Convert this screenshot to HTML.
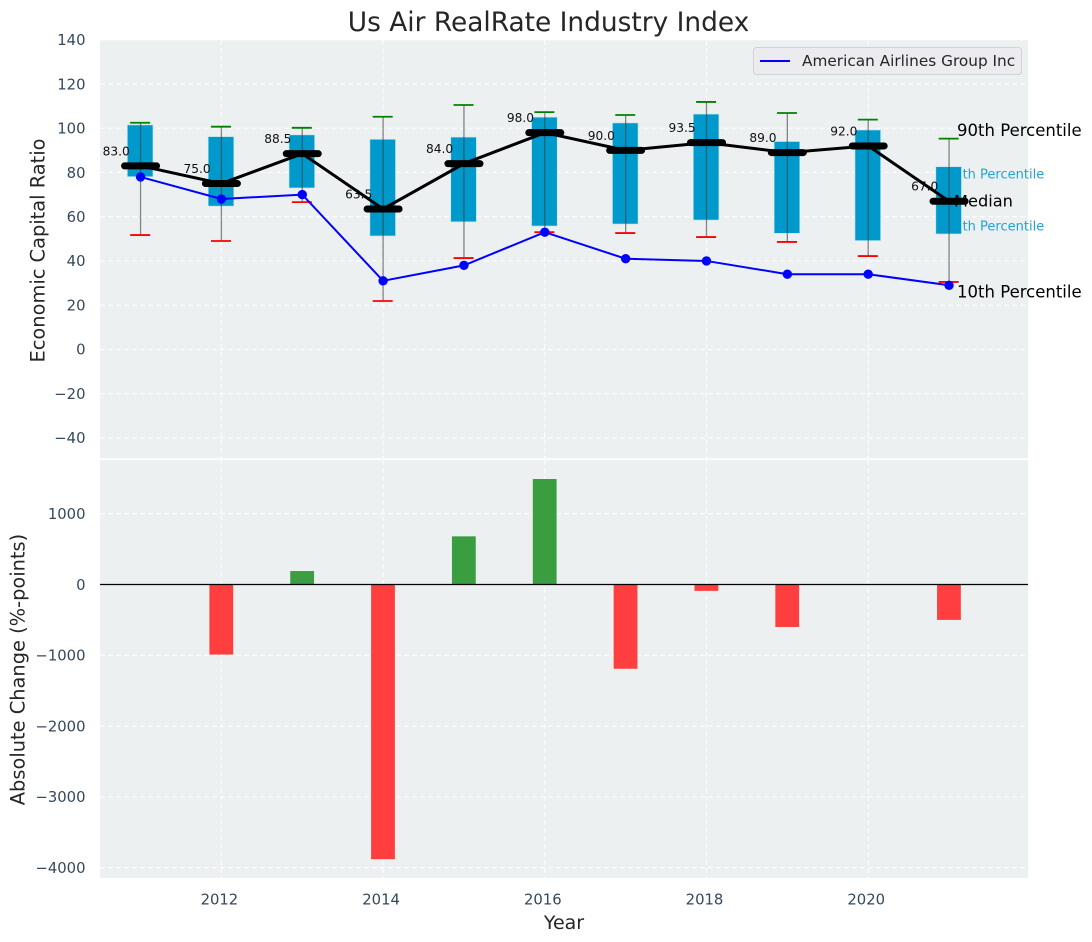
<!DOCTYPE html>
<html>
<head>
<meta charset="utf-8">
<title>Us Air RealRate Industry Index</title>
<style>
html,body{margin:0;padding:0;background:#fff;}
svg{display:block;}
text{font-family:"DejaVu Sans","Liberation Sans",sans-serif;}
</style>
</head>
<body>
<svg id="chart" xmlns="http://www.w3.org/2000/svg" width="1092" height="942" viewBox="0 0 1092 942">
<rect x="100" y="40" width="928" height="418.3" fill="#ecf0f1"/>
<rect x="100" y="460" width="928" height="418" fill="#ecf0f1"/>
<g id="layer-grid"></g>
<g id="layer-top"></g>
<g id="layer-bottom"></g>
<g id="layer-ticks"></g>
<text x="548.5" y="31" font-size="26.4" fill="#262626" text-anchor="middle">Us Air RealRate Industry Index</text>
<text transform="translate(44.5,250.5) rotate(-90)" font-size="19.4" fill="#262626" text-anchor="middle">Economic Capital Ratio</text>
<text transform="translate(24.5,669.5) rotate(-90)" font-size="19.4" fill="#262626" text-anchor="middle">Absolute Change (%-points)</text>
<text x="564" y="929" font-size="19" fill="#262626" text-anchor="middle">Year</text>
<g>
<rect x="753.5" y="47.5" width="268" height="27" rx="3" fill="#ececf0" stroke="#d2d2d6" stroke-width="1"/>
<line x1="760" x2="790" y1="61" y2="61" stroke="#0000ff" stroke-width="2"/>
<text x="802" y="66" font-size="15.3" fill="#262626">American Airlines Group Inc</text>
</g>
<script>
const years = [2011, 2012, 2013, 2014, 2015, 2016, 2017, 2018, 2019, 2020, 2021];
const p90 = [102.5, 100.7, 100.2, 105.2, 110.5, 107.3, 106, 111.9, 106.9, 103.9, 95.3];
const p75 = [101.5, 96.2, 97, 95, 96, 105, 102.4, 106.4, 94, 99.2, 82.6];
const median = [83, 75, 88.5, 63.5, 84, 98, 90, 93.5, 89, 92, 67];
const p25 = [78.1, 64.8, 73, 51.3, 57.7, 55.8, 56.7, 58.5, 52.5, 49.2, 52.2];
const p10 = [51.7, 49, 66.6, 21.9, 41.3, 53, 52.6, 50.8, 48.6, 42.2, 30.5];
const company = [78, 68, 70, 31, 38, 53, 41, 40, 34, 34, 29];
const change = [null, -990, 190, -3880, 680, 1490, -1190, -90, -600, 0, -500];
const xTicks = [2012, 2014, 2016, 2018, 2020];
const topYTicks = [140, 120, 100, 80, 60, 40, 20, 0, -20, -40];
const bottomYTicks = [1000, 0, -1000, -2000, -3000, -4000];

const NS = 'http://www.w3.org/2000/svg';
const xScale = function (year) { return 221.4 + (year - 2012) * 80.85; };
const yTop = function (v) { return 349.4 - v * 2.2115; };
const yBottom = function (v) { return 584.5 - v * 0.0708; };
const fmt = function (v) { return String(v).replace('-', '\u2212'); };

function make(parent, tag, name, attrs, content) {
  const el = document.createElementNS(NS, tag);
  
  
  Object.keys(attrs).forEach(function (k) { el.setAttribute(k, attrs[k]); });
  if (content !== undefined) el.textContent = content;
  parent.appendChild(el);
  return el;
}

const grid = document.getElementById('layer-grid');
const topLayer = document.getElementById('layer-top');
const bottomLayer = document.getElementById('layer-bottom');
const ticks = document.getElementById('layer-ticks');
const gridStyle = { stroke: '#ffffff', 'stroke-width': 1.1, 'stroke-dasharray': '5 3', opacity: 0.9 };

xTicks.forEach(function (t) {
  const x = xScale(t);
  make(grid, 'line', 'top-grid-x-' + t, Object.assign({ x1: x, x2: x, y1: 40, y2: 458.3 }, gridStyle));
  make(grid, 'line', 'bottom-grid-x-' + t, Object.assign({ x1: x, x2: x, y1: 460, y2: 878 }, gridStyle));
  make(ticks, 'text', 'x-tick-label-' + t, { x: x - 2, y: 904.5, 'font-size': 14.8, fill: '#34495e', 'text-anchor': 'middle' }, String(t));
});
topYTicks.forEach(function (t) {
  const y = yTop(t);
  make(grid, 'line', 'top-grid-y-' + t, Object.assign({ x1: 100, x2: 1028, y1: y, y2: y }, gridStyle));
  make(ticks, 'text', 'top-y-tick-label-' + t, { x: 85.5, y: y + 5.3, 'font-size': 14.8, fill: '#34495e', 'text-anchor': 'end' }, fmt(t));
});
bottomYTicks.forEach(function (t) {
  const y = yBottom(t);
  make(grid, 'line', 'bottom-grid-y-' + t, Object.assign({ x1: 100, x2: 1028, y1: y, y2: y }, gridStyle));
  make(ticks, 'text', 'bottom-y-tick-label-' + t, { x: 85.5, y: y + 5.3, 'font-size': 14.8, fill: '#34495e', 'text-anchor': 'end' }, fmt(t));
});

const lastX = xScale(years[years.length - 1]);
make(topLayer, 'text', 'p75-annotation', { x: lastX - 3, y: yTop(p75[10]) + 12, 'font-size': 13, fill: '#1fa3d6' }, '75th Percentile');
make(topLayer, 'text', 'p25-annotation', { x: lastX - 3, y: yTop(p25[10]) - 3.5, 'font-size': 13, fill: '#1fa3d6' }, '25th Percentile');

years.forEach(function (yr, i) {
  const x = xScale(yr);
  make(topLayer, 'rect', 'box-' + yr, {
    x: x - 13.2, y: yTop(p75[i]), width: 25.6, height: yTop(p25[i]) - yTop(p75[i]),
    fill: '#0099cc', stroke: '#bfe3ef', 'stroke-width': 0.6
  });
  make(topLayer, 'line', 'whisker-' + yr, {
    x1: x, x2: x, y1: yTop(p90[i]), y2: yTop(p10[i]), stroke: '#3c3c3c', 'stroke-opacity': 0.6, 'stroke-width': 1.3
  });
  make(topLayer, 'line', 'p90-cap-' + yr, {
    x1: x - 10.4, x2: x + 9.6, y1: yTop(p90[i]), y2: yTop(p90[i]), stroke: '#008000', 'stroke-width': 1.8
  });
  make(topLayer, 'line', 'p10-cap-' + yr, {
    x1: x - 10.4, x2: x + 9.6, y1: yTop(p10[i]), y2: yTop(p10[i]), stroke: '#ff0000', 'stroke-width': 1.8
  });
  make(topLayer, 'text', 'median-value-label-' + yr, {
    x: x - 10.8, y: yTop(median[i]) - 10.5, 'font-size': 12.2, fill: '#111111', 'text-anchor': 'end'
  }, median[i].toFixed(1));
});

const medianPoints = years.map(function (yr, i) { return xScale(yr) + ',' + yTop(median[i]); }).join(' ');
make(topLayer, 'polyline', 'median-line', { points: medianPoints, fill: 'none', stroke: '#000000', 'stroke-width': 3 });
years.forEach(function (yr, i) {
  const x = xScale(yr);
  make(topLayer, 'line', 'median-bar-' + yr, {
    x1: x - 16, x2: x + 16, y1: yTop(median[i]), y2: yTop(median[i]), stroke: '#000000', 'stroke-width': 7, 'stroke-linecap': 'round'
  });
});

const companyPoints = years.map(function (yr, i) { return xScale(yr) + ',' + yTop(company[i]); }).join(' ');
make(topLayer, 'polyline', 'company-line', { points: companyPoints, fill: 'none', stroke: '#0000ff', 'stroke-width': 2 });
years.forEach(function (yr, i) {
  make(topLayer, 'circle', 'company-point-' + yr, { cx: xScale(yr), cy: yTop(company[i]), r: 4.7, fill: '#0000ff' });
});

make(topLayer, 'text', 'p90-annotation', { x: lastX + 8, y: yTop(p90[10]) - 2.5, 'font-size': 16.5, fill: '#000000' }, '90th Percentile');
make(topLayer, 'text', 'median-annotation', { x: lastX + 5, y: yTop(median[10]) + 5.5, 'font-size': 16.2, fill: '#000000' }, 'Median');
make(topLayer, 'text', 'p10-annotation', { x: lastX + 8, y: yTop(p10[10]) + 15.5, 'font-size': 16.5, fill: '#000000' }, '10th Percentile');

years.forEach(function (yr, i) {
  const v = change[i];
  if (v === null || v === 0) return;
  const x = xScale(yr);
  const y = Math.min(yBottom(v), yBottom(0));
  make(bottomLayer, 'rect', 'change-bar-' + yr, {
    x: x - 12, y: y, width: 23.8, height: Math.abs(yBottom(v) - yBottom(0)),
    fill: v > 0 ? '#3a9d3f' : '#ff3f3f'
  });
});
make(bottomLayer, 'line', 'zero-line', { x1: 100, x2: 1028, y1: yBottom(0), y2: yBottom(0), stroke: '#000000', 'stroke-width': 1.2 });
</script>
</svg>
</body>
</html>
